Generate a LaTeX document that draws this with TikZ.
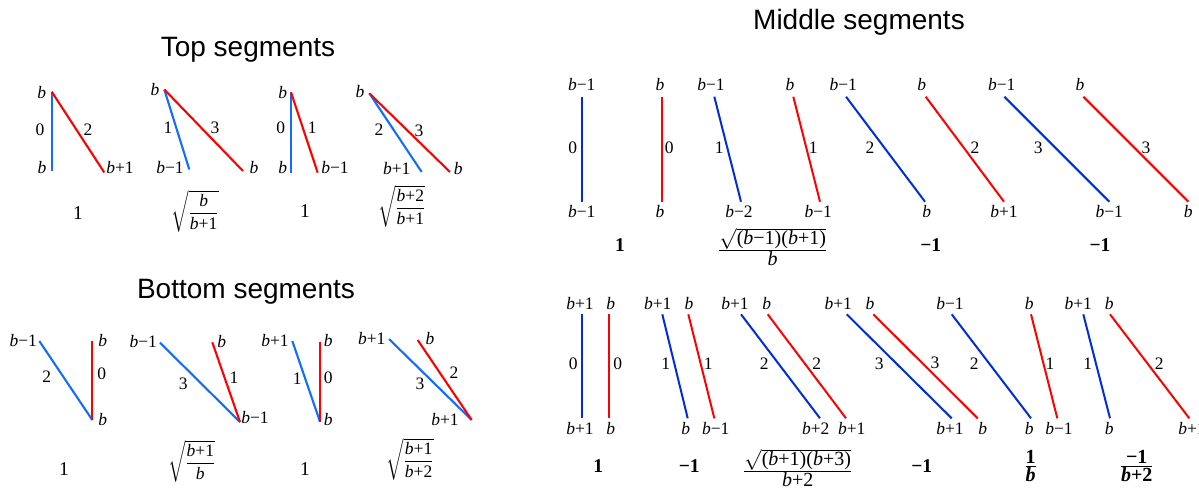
\documentclass[tikz,border=0pt]{standalone}
\usepackage{amsmath}
\usepackage{fontspec}
\setmainfont{Liberation Serif}
\newfontfamily\titlefont{Liberation Sans}
\definecolor{lblue}{RGB}{20,108,255}
\definecolor{mblue}{RGB}{0,45,215}
\definecolor{sred}{RGB}{255,0,0}
\newcommand\bv{\textit{b}}
\newcommand\bbv{\textbf{\textit{b}}}
\newcounter{lbl}
\newcommand\lab[2]{\stepcounter{lbl}\node[lab] (lab\arabic{lbl}) at (#1) {#2};}
\newcommand\res[2]{\stepcounter{lbl}\node[resl] (res\arabic{lbl}) at (#1) {#2};}
\newcommand\seg[4]{\coordinate (#2a) at (#3); \coordinate (#2b) at (#4); \draw[#1] (#2a) -- (#2b);}
\tikzset{
  lab/.style={inner sep=0pt, font=\fontsize{17.5}{19}\selectfont},
  resl/.style={inner sep=0pt, font=\fontsize{19.5}{21}\selectfont},
  fracl/.style={inner sep=0pt, font=\fontsize{17.5}{20}\selectfont},
  fracm/.style={inner sep=0pt, font=\fontsize{20}{22}\selectfont},
  ttl/.style={inner sep=0pt, anchor=base, font=\fontsize{28}{30}\titlefont},
  bl/.style={draw=lblue, line width=2.1pt},
  rl/.style={draw=sred, line width=2.1pt},
  bm/.style={draw=mblue, line width=2pt},
  rm/.style={draw=sred, line width=2pt}
}
\begin{document}
\begin{tikzpicture}[x=1pt,y=-1pt]
\useasboundingbox (0,0) rectangle (1199,488);
% titles
\node[ttl] (t1) at (248,56) {Top segments};
\node[ttl] (t2) at (246,298) {Bottom segments};
\node[ttl] (t3) at (859,29) {Middle segments};

% ===== Top segments =====
\seg{bl}{ta1}{51.7,91.7}{51.7,171}
\seg{rl}{ta2}{51.7,91.7}{104.3,172.5}
\lab{41.7,93}{\bv}\lab{40,130}{0}\lab{88,130}{2}\lab{42,168}{\bv}\lab{120,168}{\bv+1}
\res{78,213}{1}

\seg{bl}{tb1}{164.3,89.5}{189.3,169.5}
\seg{rl}{tb2}{164.3,89.5}{243,171}
\lab{155,90}{\bv}\lab{168,128}{1}\lab{215,128}{3}\lab{170,168}{\bv−1}\lab{254,168}{\bv}
\node[fracl] (fr1) at (195,211) {$\sqrt{\dfrac{\mbox{\bv}}{\mbox{\bv+1}}}$};

\seg{bl}{tc1}{291,92.3}{291,172.7}
\seg{rl}{tc2}{291,92.3}{317.7,172.7}
\lab{282.7,93}{\bv}\lab{280.7,128}{0}\lab{312.3,128}{1}\lab{282.7,168}{\bv}\lab{335,168}{\bv−1}
\res{305,211}{1}

\seg{bl}{td1}{369.3,93.3}{421.7,172}
\seg{rl}{td2}{369.3,93.3}{450,172}
\lab{360,92}{\bv}\lab{379,130}{2}\lab{419,131}{3}\lab{396.7,169}{\bv+1}\lab{458.3,169}{\bv}
\node[fracl] (fr2) at (401.7,206) {$\sqrt{\dfrac{\mbox{\bv+2}}{\mbox{\bv+1}}}$};

% ===== Bottom segments =====
\seg{bl}{ba1}{39.3,341}{92.3,420}
\seg{rl}{ba2}{92.3,341}{92.3,420}
\lab{23.3,341}{\bv−1}\lab{46.7,376.7}{2}\lab{102.7,341}{\bv}\lab{101.7,373.3}{0}\lab{102.7,420}{\bv}
\res{64,469}{1}

\seg{bl}{bb1}{160,342.7}{240,422}
\seg{rl}{bb2}{212.3,342.3}{240,422}
\lab{143.3,342}{\bv−1}\lab{221.7,342}{\bv}\lab{183.3,383.3}{3}\lab{234,378}{1}\lab{255,418}{\bv−1}
\node[fracl] (fr3) at (191.7,461) {$\sqrt{\dfrac{\mbox{\bv+1}}{\mbox{\bv}}}$};

\seg{bl}{bc1}{292.3,341}{320,421.7}
\seg{rl}{bc2}{320,341.7}{320,421.7}
\lab{275,341}{\bv+1}\lab{328.3,341}{\bv}\lab{297.3,378.3}{1}\lab{328.3,378}{0}\lab{328.3,420}{\bv}
\res{305,469}{1}

\seg{bl}{bd1}{389,339}{471.7,420}
\seg{rl}{bd2}{417.7,340}{471.7,420}
\lab{371.7,339}{\bv+1}\lab{430,339}{\bv}\lab{420,383.3}{3}\lab{454,372.7}{2}\lab{445,420}{\bv+1}
\node[fracl] (fr4) at (410,459) {$\sqrt{\dfrac{\mbox{\bv+1}}{\mbox{\bv+2}}}$};

% ===== Middle segments, top row =====
\seg{bm}{ma1}{582.3,96.7}{582.3,201.7}
\lab{581.7,85}{\bv−1}\lab{572.7,147.3}{0}\lab{581.7,211.7}{\bv−1}
\seg{rm}{ma2}{661.7,96.7}{661.7,201.7}
\lab{660,85}{\bv}\lab{669.3,147.3}{0}\lab{660,211.7}{\bv}
\res{620,245}{\textbf{1}}

\seg{bm}{mb1}{714.3,96.7}{741,201.7}
\lab{711,85}{\bv−1}\lab{719.3,147.3}{1}\lab{739,211.7}{\bv−2}
\seg{rm}{mb2}{793.3,96.7}{820,201.7}
\lab{790,85}{\bv}\lab{813.3,147.3}{1}\lab{818.3,211.7}{\bv−1}
\node[fracm] (fr5) at (772.7,247) {$\frac{\sqrt{\mbox{(\bv−1)(\bv+1)}}}{\mbox{\bv}}$};

\seg{bm}{mc1}{846,96.7}{925,201.7}
\lab{843.3,85}{\bv−1}\lab{870,147.3}{2}\lab{926.7,211.7}{\bv}
\seg{rm}{mc2}{925.7,96.7}{1004,201.7}
\lab{921.7,85}{\bv}\lab{975,147.3}{2}\lab{1004,211.7}{\bv+1}
\res{930.7,245}{\textbf{−1}}

\seg{bm}{md1}{1004.3,96.7}{1109.3,201.7}
\lab{1001.7,85}{\bv−1}\lab{1038.3,147.3}{3}\lab{1109.3,211.7}{\bv−1}
\seg{rm}{md2}{1083.3,96.7}{1188.3,201.7}
\lab{1080,85}{\bv}\lab{1146,147.3}{3}\lab{1188.3,211.7}{\bv}
\res{1100,245}{\textbf{−1}}

% ===== Middle segments, bottom row =====
\seg{bm}{na1}{582.3,314.3}{582.3,418.3}
\lab{580,304}{\bv+1}\lab{573.3,364}{0}\lab{580,429}{\bv+1}
\seg{rm}{na2}{609,314.3}{609,418.3}
\lab{610.7,304}{\bv}\lab{617.7,364}{0}\lab{610.7,429}{\bv}
\res{598.3,466}{\textbf{1}}

\seg{bm}{nb1}{662.3,314.3}{687.7,418.3}
\lab{657.7,304}{\bv+1}\lab{665.7,364}{1}\lab{685.7,429}{\bv}
\seg{rm}{nb2}{688.3,314.3}{714.3,418.3}
\lab{689,304}{\bv}\lab{708.3,364}{1}\lab{715.7,429}{\bv−1}
\res{689.3,466}{\textbf{−1}}

\seg{bm}{nc1}{741,314.3}{820,418.3}
\lab{735,304}{\bv+1}\lab{764.3,364}{2}\lab{815.7,429}{\bv+2}
\seg{rm}{nc2}{767.7,314.3}{846,418.3}
\lab{766.7,304}{\bv}\lab{816.7,364}{2}\lab{851.7,429}{\bv+1}
\node[fracm] (fr6) at (797.7,468) {$\frac{\sqrt{\mbox{(\bv+1)(\bv+3)}}}{\mbox{\bv+2}}$};

\seg{bm}{nd1}{846.7,314.3}{951.7,418.3}
\lab{838.3,304}{\bv+1}\lab{879.3,363.3}{3}\lab{950,429}{\bv+1}
\seg{rm}{nd2}{873.3,314.3}{977.7,418.3}
\lab{870,304}{\bv}\lab{935,362.3}{3}\lab{982.7,429}{\bv}
\res{921.7,466}{\textbf{−1}}

\seg{bm}{ne1}{951.7,314.3}{1031,418.3}
\lab{950,304}{\bv−1}\lab{974.3,364}{2}\lab{1029.3,429}{\bv}
\seg{rm}{ne2}{1031,314.3}{1057.3,418.3}
\lab{1029.3,304}{\bv}\lab{1050,364}{1}\lab{1059,429}{\bv−1}
\node[fracm] (fr7) at (1030.7,466) {$\frac{\mbox{\textbf{1}}}{\mbox{\bbv}}$};

\seg{bm}{nf1}{1083.3,314.3}{1110,418.3}
\lab{1078.3,304}{\bv+1}\lab{1087.7,364}{1}\lab{1109.3,429}{\bv}
\seg{rm}{nf2}{1110,314.3}{1189.3,418.3}
\lab{1109.3,304}{\bv}\lab{1159.3,364}{2}\lab{1192,429}{\bv+1}
\node[fracm] (fr8) at (1136.7,466) {$\frac{\mbox{\textbf{−1}}}{\mbox{\bbv\textbf{+2}}}$};
\end{tikzpicture}
\end{document}
